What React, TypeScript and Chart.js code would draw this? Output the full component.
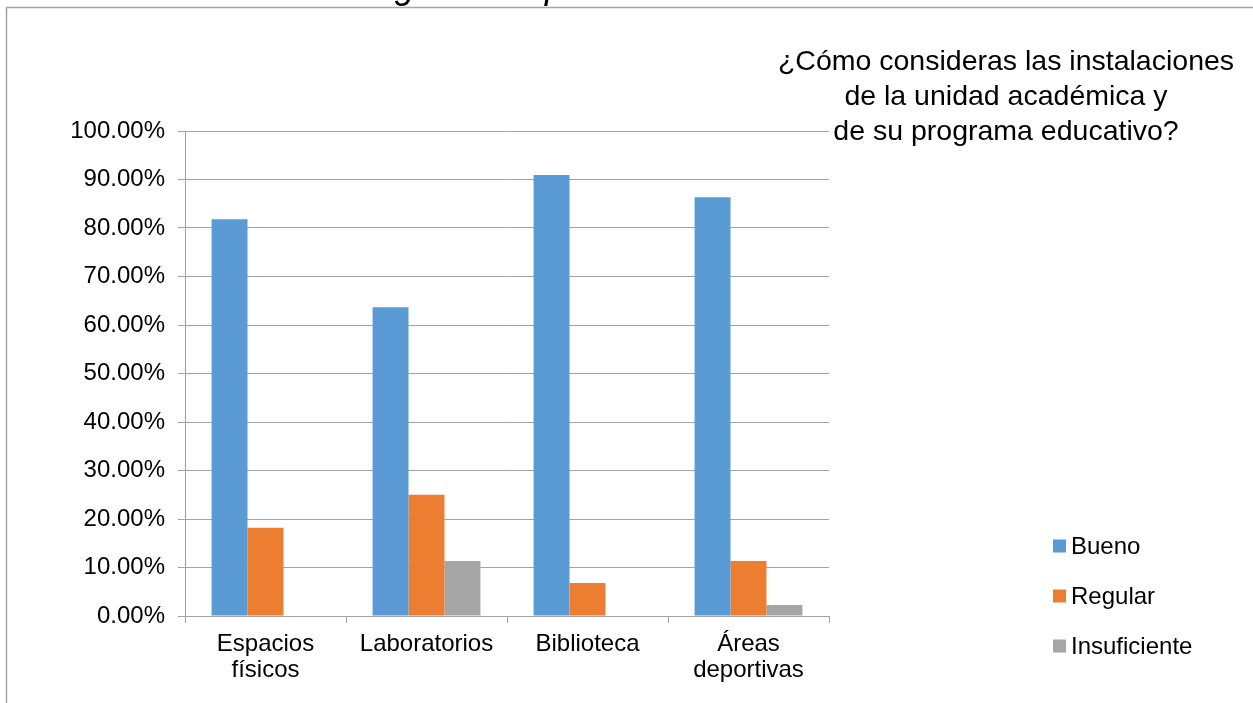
import React, { useEffect, useRef } from "react";
import { Chart, registerables } from "chart.js";

Chart.register(...registerables);

const categories: (string | string[])[] = [["Espacios", "físicos"], "Laboratorios", "Biblioteca", ["Áreas", "deportivas"]];
const seriesNames = ["Bueno", "Regular", "Insuficiente"];
const bueno = [0.8182, 0.6364, 0.9091, 0.8636];
const regular = [0.1818, 0.25, 0.0682, 0.1136];
const insuficiente = [0, 0.1136, 0, 0.0227];
const seriesColors = ["#5B9BD5", "#ED7D31", "#A5A5A5"];
const titleLines = ["¿Cómo consideras las instalaciones", "de la unidad académica y", "de su programa educativo?"];
const captionText = "Figura 3. Opinión sobre instalaciones";

const FONT = "'Liberation Sans', Arial, sans-serif";
const GRID = "#a3a3a3";

const decorPlugin = {
  id: "decor",
  beforeDraw(chart: any) {
    const ctx = chart.ctx;
    ctx.save();
    ctx.fillStyle = "#ffffff";
    ctx.fillRect(0, 0, chart.width, chart.height);
    ctx.strokeStyle = "#a6a6a6";
    ctx.lineWidth = 1.5;
    ctx.beginPath();
    ctx.moveTo(6.5, chart.height);
    ctx.lineTo(6.5, 7.5);
    ctx.lineTo(chart.width, 7.5);
    ctx.stroke();
    ctx.restore();
  },
  afterDraw(chart: any) {
    const ctx = chart.ctx;
    ctx.save();
    // caption (cut off at the top)
    ctx.fillStyle = "#000";
    ctx.font = `italic 36px ${FONT}`;
    ctx.textAlign = "center";
    ctx.textBaseline = "alphabetic";
    ctx.fillText(captionText, 662, -2);
    // title
    ctx.font = `28.5px ${FONT}`;
    ctx.textAlign = "center";
    const tb = [70, 105, 140];
    titleLines.forEach((t, i) => {
      const w = ctx.measureText(t).width;
      ctx.fillStyle = "#fff";
      ctx.fillRect(1006 - w / 2 - 1, tb[i] - 22, w + 2, 26);
      ctx.fillStyle = "#000";
      ctx.fillText(t, 1006, tb[i]);
    });
    // legend
    const ds = chart.data.datasets;
    ctx.font = `24px ${FONT}`;
    ctx.textAlign = "left";
    ctx.textBaseline = "middle";
    ds.forEach((d: any, i: number) => {
      const cy = 546 + i * 50;
      ctx.fillStyle = d.backgroundColor;
      ctx.fillRect(1053, cy - 6.5, 13, 13);
      ctx.fillStyle = "#000";
      ctx.fillText(d.label, 1071, cy + 1);
    });
    ctx.restore();
  },
};

export default function App() {
  const ref = useRef<HTMLCanvasElement>(null);
  useEffect(() => {
    if (!ref.current) return;
    const chart = new Chart(ref.current, {
      type: "bar",
      data: {
        labels: categories,
        datasets: [bueno, regular, insuficiente].map((vals, i) => ({
          label: seriesNames[i],
          data: vals,
          backgroundColor: seriesColors[i],
          borderWidth: 0,
          categoryPercentage: 0.67,
          barPercentage: 1,
        })),
      },
      options: {
        animation: false,
        responsive: false,
        devicePixelRatio: 1,
        layout: { padding: { left: 0, right: 424, top: 131, bottom: 0 } },
        plugins: { legend: { display: false }, title: { display: false }, tooltip: { enabled: false } },
        scales: {
          x: {
            offset: true,
            grid: { display: true, drawOnChartArea: false, drawTicks: true, tickLength: 7, color: GRID, offset: true },
            border: { display: true, color: GRID },
            ticks: { color: "#000", font: { family: FONT, size: 24, lineHeight: 1.1 }, padding: 8, maxRotation: 0, autoSkip: false },
            afterFit: (s: any) => { s.height = 87; },
          },
          y: {
            min: 0,
            max: 1,
            grid: { color: GRID, tickLength: 7, drawTicks: true },
            border: { display: true, color: GRID },
            ticks: {
              stepSize: 0.1,
              color: "#000",
              font: { family: FONT, size: 24 },
              padding: 13,
              callback: (v: any) => (Number(v) * 100).toFixed(2) + "%",
            },
            afterFit: (s: any) => { s.width = 185; },
          },
        },
      },
      plugins: [decorPlugin],
    });
    return () => chart.destroy();
  }, []);
  return (
    <div style={{ position: "absolute", left: 0, top: 0, width: 1253, height: 703, background: "#fff" }}>
      <canvas ref={ref} width={1253} height={703} style={{ display: "block", width: 1253, height: 703 }} />
    </div>
  );
}
